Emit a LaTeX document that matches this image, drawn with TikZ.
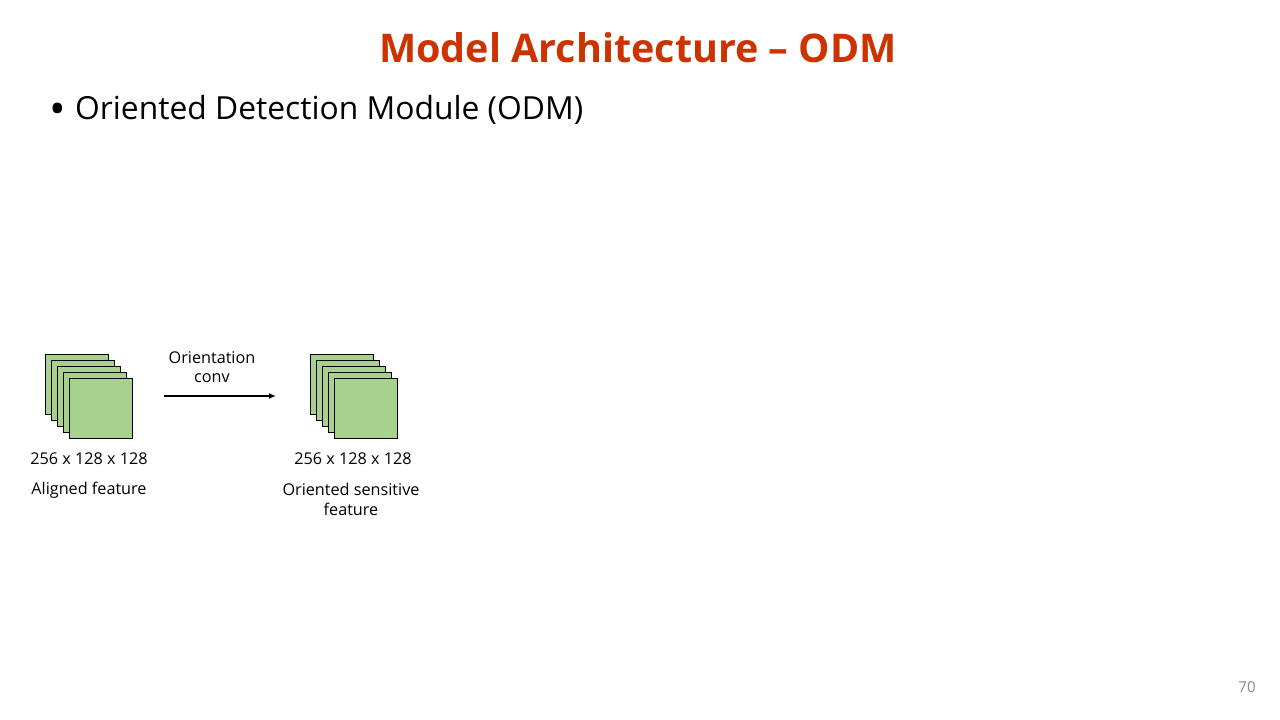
\documentclass[tikz,border=0pt]{standalone}
\usepackage{fontspec}
\setmainfont{Open Sans}
\usetikzlibrary{arrows.meta}
\definecolor{titlered}{HTML}{CC3300}
\definecolor{fmgreen}{HTML}{A9D18E}
\definecolor{pagegray}{HTML}{8C8C8C}
\tikzset{
  fmap/.style={draw=black, line width=0.9pt, fill=fmgreen, minimum width=63pt, minimum height=60pt, inner sep=0pt, anchor=north west},
  lbl/.style={font=\fontsize{16.2}{19.5}\selectfont, align=center, inner sep=0pt},
}
\begin{document}
\begin{tikzpicture}[x=1pt,y=-1pt]
\useasboundingbox (0,0) rectangle (1280,720);
\fill[white] (0,0) rectangle (1280,720);
\node[font=\fontsize{39.5}{44}\bfseries, text=titlered, inner sep=0pt] (title) at (638,48) {Model Architecture – ODM};
\node[font=\fontsize{31.8}{36}\selectfont, anchor=west, inner sep=0pt] (bullet) at (75,110) {Oriented Detection Module (ODM)};
\node[font=\fontsize{44}{48}\selectfont, anchor=base, inner sep=0pt] (dot) at (57.5,124) {•};
% left stack
\foreach \i in {0,...,4} {
  \node[fmap] (a\i) at (45+6*\i, 354+6*\i) {};
}
% right stack
\foreach \i in {0,...,4} {
  \node[fmap] (b\i) at (310+6*\i, 354+6*\i) {};
}
\coordinate (arrs) at (164,396);
\coordinate (arre) at (276,396);
\draw[line width=1.3pt, -{Latex[length=7pt,width=6pt]}] (arrs) -- (arre);
\node[lbl] (conv) at (212,367) {Orientation\\conv};
\node[lbl] (adim) at (89,459) {256 x 128 x 128};
\node[lbl] (aname) at (89,490) {Aligned feature};
\node[lbl] (bdim) at (353,459) {256 x 128 x 128};
\node[lbl] (bname) at (351,499.5) {Oriented sensitive\\feature};
\node[font=\fontsize{15}{18}\selectfont, text=pagegray, inner sep=0pt] (page) at (1247,687) {70};
\end{tikzpicture}
\end{document}
